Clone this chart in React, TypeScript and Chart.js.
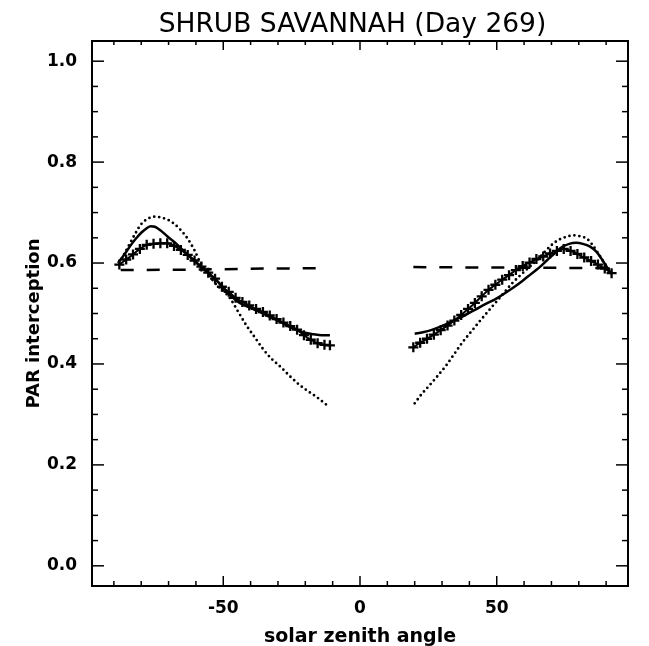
import React, { useEffect, useRef } from "react";
import { Chart, registerables } from "chart.js";

Chart.register(...registerables);

const TITLE = "SHRUB SAVANNAH (Day 269)";
const X_TITLE = "solar zenith angle";
const Y_TITLE = "PAR interception";
const X_LABEL_STEP = 50;
const Y_LABEL_STEP = 0.2;
const X_MINOR_STEP = 10;
const Y_MINOR_STEP = 0.05;

// ---- left half (negative zenith angles) ----
const solidLeftX = [-88.5, -86, -84, -82, -80, -78, -76.5, -75, -73, -70.5, -67.5, -64.5, -61.5, -58.5, -55.5, -52.5, -50, -47, -44, -40, -37, -34, -30, -27, -24, -21, -17, -14, -11];
const solidLeftY = [0.600, 0.618, 0.634, 0.648, 0.660, 0.669, 0.673, 0.672, 0.665, 0.653, 0.640, 0.624, 0.609, 0.594, 0.580, 0.566, 0.551, 0.534, 0.521, 0.511, 0.504, 0.496, 0.486, 0.477, 0.469, 0.463, 0.459, 0.457, 0.457];

const dottedLeftX = [-88, -85, -82, -80, -77.5, -75, -72.5, -70, -68, -65.5, -63, -60.5, -58.5, -55.5, -52.5, -50, -47.5, -44.5, -41.5, -38.5, -35.5, -32.5, -29, -25.5, -22, -19, -16, -12];
const dottedLeftY = [0.600, 0.630, 0.660, 0.677, 0.688, 0.692, 0.690, 0.685, 0.678, 0.665, 0.648, 0.625, 0.602, 0.578, 0.557, 0.545, 0.530, 0.503, 0.476, 0.453, 0.430, 0.411, 0.394, 0.375, 0.358, 0.346, 0.335, 0.318];

const dashedLeftX = [-87.5, -60, -35, -12];
const dashedLeftY = [0.586, 0.587, 0.589, 0.590];

const plusLeftX = [-88, -85.5, -83, -80.5, -78, -75.5, -73, -70.5, -68, -65.5, -63, -60.5, -58, -55.5, -53, -50.5, -48, -45.5, -43, -40.5, -38, -35.5, -33, -30.5, -28, -25.5, -23, -20.5, -18, -15.5, -13, -11];
const plusLeftY = [0.597, 0.607, 0.617, 0.628, 0.636, 0.638, 0.639, 0.639, 0.634, 0.626, 0.616, 0.605, 0.593, 0.581, 0.569, 0.553, 0.543, 0.531, 0.523, 0.516, 0.509, 0.503, 0.496, 0.489, 0.482, 0.475, 0.468, 0.457, 0.448, 0.441, 0.438, 0.437];

// ---- right half (positive zenith angles) ----
const solidRightX = [20, 23, 26, 29, 32, 35, 38.5, 42, 46, 50, 53.5, 56.5, 59.5, 62.5, 65.5, 68.5, 71.5, 74, 76.5, 79, 81.5, 84, 86.5, 88.5, 90.5, 92];
const solidRightY = [0.460, 0.463, 0.467, 0.473, 0.480, 0.488, 0.497, 0.507, 0.519, 0.530, 0.542, 0.553, 0.565, 0.578, 0.591, 0.606, 0.621, 0.632, 0.638, 0.640, 0.638, 0.633, 0.622, 0.607, 0.590, 0.578];

const dottedRightX = [20, 22.5, 25.5, 28.5, 31.5, 34.5, 37.5, 40.5, 43.5, 46.5, 49.5, 52.5, 55.5, 58.5, 61.5, 65, 68, 71, 73, 75.5, 78, 80.5, 83, 85, 87, 89, 91, 92];
const dottedRightY = [0.322, 0.340, 0.358, 0.377, 0.397, 0.420, 0.443, 0.463, 0.483, 0.502, 0.521, 0.540, 0.559, 0.575, 0.590, 0.607, 0.625, 0.640, 0.647, 0.652, 0.655, 0.653, 0.648, 0.636, 0.620, 0.603, 0.588, 0.580];

const dashedRightX = [19.5, 50, 90];
const dashedRightY = [0.592, 0.591, 0.590];

const plusRightX = [19.5, 22, 24.5, 27, 29.5, 32, 34.5, 37, 39.5, 42, 44.5, 47, 49.5, 52, 54.5, 57, 59.5, 62, 64.5, 67, 69.5, 72, 74.5, 77, 79.5, 82, 84.5, 87, 89.5, 92];
const plusRightY = [0.433, 0.442, 0.450, 0.458, 0.467, 0.476, 0.486, 0.497, 0.509, 0.521, 0.534, 0.547, 0.557, 0.567, 0.576, 0.586, 0.594, 0.601, 0.608, 0.613, 0.619, 0.624, 0.628, 0.624, 0.618, 0.611, 0.604, 0.597, 0.589, 0.580];

const X_MIN = -98;
const X_MAX = 98;
const Y_MIN = -0.04;
const Y_MAX = 1.04;

const pts = (xs: number[], ys: number[]) => xs.map((x, i) => ({ x, y: ys[i] }));

const solidStyle = {
  borderColor: "#000",
  borderWidth: 2.5,
  pointRadius: 0,
  cubicInterpolationMode: "monotone" as const,
};
const dottedStyle = {
  borderColor: "#000",
  borderWidth: 2.8,
  borderDash: [0, 5],
  borderCapStyle: "round" as const,
  pointRadius: 0,
  cubicInterpolationMode: "monotone" as const,
};
const dashedStyle = {
  borderColor: "#000",
  borderWidth: 2.5,
  borderDash: [13, 13],
  pointRadius: 0,
};
const plusStyle = {
  borderColor: "#000",
  backgroundColor: "#000",
  borderWidth: 2,
  pointStyle: "cross" as const,
  pointRadius: 5,
  pointBorderWidth: 2.3,
  pointBorderColor: "#000",
  cubicInterpolationMode: "monotone" as const,
};

const frameTicks = {
  id: "frameTicks",
  afterDatasetsDraw(chart: any) {
    const { ctx, chartArea: a, scales } = chart;
    const xs = scales.x;
    const ys = scales.y;
    ctx.save();
    ctx.strokeStyle = "#000";
    ctx.lineWidth = 2;
    ctx.strokeRect(a.left, a.top, a.right - a.left, a.bottom - a.top);
    ctx.lineWidth = 1.5;
    const seg = (x1: number, y1: number, x2: number, y2: number) => {
      ctx.beginPath();
      ctx.moveTo(x1, y1);
      ctx.lineTo(x2, y2);
      ctx.stroke();
    };
    const nx = Math.floor(X_MAX / X_MINOR_STEP);
    for (let k = -nx; k <= nx; k++) {
      const v = k * X_MINOR_STEP;
      const px = xs.getPixelForValue(v);
      const major = v % X_LABEL_STEP === 0;
      seg(px, a.bottom, px, a.bottom - (major ? 10 : 5));
      seg(px, a.top, px, a.top + (major ? 9 : 4));
    }
    const ny = Math.round(1 / Y_MINOR_STEP);
    const per = Math.round(Y_LABEL_STEP / Y_MINOR_STEP);
    for (let k = 0; k <= ny; k++) {
      const v = k * Y_MINOR_STEP;
      const py = ys.getPixelForValue(v);
      const major = k % per === 0;
      seg(a.left, py, a.left + (major ? 12 : 6), py);
      seg(a.right, py, a.right - (major ? 12 : 6), py);
    }
    ctx.restore();
  },
};

const yTitlePlugin = {
  id: "yTitle",
  afterDraw(chart: any) {
    const { ctx, chartArea: a } = chart;
    ctx.save();
    ctx.translate(34, (a.top + a.bottom) / 2 + 10);
    ctx.rotate(-Math.PI / 2);
    ctx.font = "bold 18px 'DejaVu Sans'";
    ctx.fillStyle = "#000";
    ctx.textAlign = "center";
    ctx.textBaseline = "middle";
    ctx.fillText(Y_TITLE, 0, 0);
    ctx.restore();
  },
};

export default function App() {
  const ref = useRef<HTMLCanvasElement | null>(null);

  useEffect(() => {
    if (!ref.current) return;
    Chart.defaults.font.family = "'DejaVu Sans'";
    Chart.defaults.color = "#000";
    const chart = new Chart(ref.current, {
      type: "line",
      data: {
        datasets: [
          { ...solidStyle, data: pts(solidLeftX, solidLeftY) },
          { ...dottedStyle, data: pts(dottedLeftX, dottedLeftY) },
          { ...dashedStyle, data: pts(dashedLeftX, dashedLeftY) },
          { ...plusStyle, data: pts(plusLeftX, plusLeftY) },
          { ...solidStyle, data: pts(solidRightX, solidRightY) },
          { ...dottedStyle, data: pts(dottedRightX, dottedRightY) },
          { ...dashedStyle, data: pts(dashedRightX, dashedRightY) },
          { ...plusStyle, data: pts(plusRightX, plusRightY) },
        ] as any,
      },
      options: {
        animation: false,
        responsive: false,
        parsing: false as any,
        layout: { padding: { left: 0, right: -56, top: 0, bottom: 0 } },
        plugins: {
          legend: { display: false },
          tooltip: { enabled: false },
          title: {
            display: true,
            text: TITLE,
            color: "#000",
            font: { family: "'DejaVu Sans'", size: 26.5, weight: "normal", lineHeight: 1.2 },
            padding: { top: 9, bottom: 0.2 },
          },
        },
        scales: {
          x: {
            type: "linear",
            min: X_MIN,
            max: X_MAX,
            grid: { display: false, drawTicks: false },
            border: { display: false },
            ticks: {
              stepSize: X_LABEL_STEP,
              includeBounds: false,
              padding: 12,
              maxRotation: 0,
              font: { family: "'DejaVu Sans'", size: 17, weight: "bold" },
              color: "#000",
              callback: (v: any) => String(v),
            },
            title: {
              display: true,
              text: X_TITLE,
              color: "#000",
              font: { family: "'DejaVu Sans'", size: 19, weight: "bold", lineHeight: 1.2 },
              padding: { top: 0, bottom: -2 },
            },
            afterFit: (s: any) => {
              s.height = 60;
            },
          },
          y: {
            type: "linear",
            min: Y_MIN,
            max: Y_MAX,
            grid: { display: false, drawTicks: false },
            border: { display: false },
            ticks: {
              stepSize: Y_LABEL_STEP,
              includeBounds: false,
              padding: 15,
              font: { family: "'DejaVu Sans'", size: 17, weight: "bold" },
              color: "#000",
              callback: (v: any) => Number(v).toFixed(1),
            },
            title: { display: false, text: Y_TITLE },
            afterFit: (s: any) => {
              s.width = 92;
            },
          },
          yRight: {
            type: "linear",
            position: "right",
            display: true,
            min: 0,
            max: 1,
            grid: { display: false, drawTicks: false },
            border: { display: false },
            ticks: { display: false },
            afterFit: (s: any) => {
              s.width = 77;
            },
          },
        },
      } as any,
      plugins: [frameTicks, yTitlePlugin],
    });
    return () => chart.destroy();
  }, []);

  return (
    <div style={{ position: "absolute", left: 0, top: 0, width: 649, height: 646, background: "#fff" }}>
      <canvas ref={ref} width={649} height={646} style={{ display: "block" }} />
    </div>
  );
}
